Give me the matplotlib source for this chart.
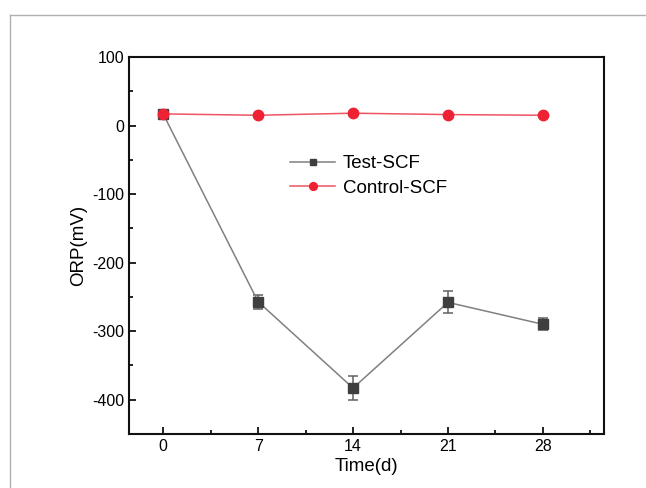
import matplotlib
matplotlib.use("Agg")
import matplotlib.pyplot as plt
from matplotlib.lines import Line2D
from matplotlib.ticker import MultipleLocator

plt.rcParams['font.family'] = ['Liberation Sans', 'DejaVu Sans']
plt.rcParams['axes.unicode_minus'] = False

days = [0, 7, 14, 21, 28]
test_scf = [17, -257, -383, -258, -290]
test_err = [0, 10, 17, 16, 9]
control_scf = [17, 15, 18, 16, 15]

fig = plt.figure(figsize=(6.46, 4.88), dpi=100)
ax = fig.add_axes([0.2, 0.1107, 0.735, 0.7725])

ax.errorbar(days, test_scf, yerr=test_err, color='none', ecolor='#606060',
            elinewidth=1.1, capsize=3.5, capthick=1.1, fmt='none', zorder=2)
ln_test, = ax.plot(days, test_scf, color='#808080', lw=1.1, marker='s', ms=6.5,
                   mfc='#3f3f3f', mec='#3f3f3f', label='Test-SCF', zorder=3)
ln_ctrl, = ax.plot(days, control_scf, color='#ee5560', lw=1.1, marker='o', ms=7.5,
                   mfc='#ee2233', mec='#ee2233', label='Control-SCF', zorder=4)

ax.set_xlim(-2.5, 32.5)
ax.set_ylim(-450, 100)
ax.set_xticks(days)
ax.set_yticks([100, 0, -100, -200, -300, -400])
ax.xaxis.set_minor_locator(MultipleLocator(3.5))
ax.yaxis.set_minor_locator(MultipleLocator(50))
ax.tick_params(which='both', direction='in', top=False, right=False,
               labelsize=11.5, width=1.3, color='#111111')
ax.tick_params(which='major', length=5)
ax.tick_params(which='minor', length=3)
for s in ax.spines.values():
    s.set_linewidth(1.5)
    s.set_color('#111111')

ax.set_xlabel('Time(d)', fontsize=13.5, labelpad=3)
ax.set_ylabel('ORP(mV)', fontsize=13.5, labelpad=4)

ax.legend(handles=[ln_test, ln_ctrl], loc='upper left',
          bbox_to_anchor=(0.339, 0.74), frameon=False,
          fontsize=13.5, handlelength=2.4, handletextpad=0.4, markerscale=0.75,
          borderpad=0, borderaxespad=0, labelspacing=0.4)

# image border
fig.add_artist(Line2D([9.5/646, 1], [1 - 15/488, 1 - 15/488],
                      transform=fig.transFigure, color='#b0b0b0', lw=1))
fig.add_artist(Line2D([9.5/646, 9.5/646], [0, 1 - 15/488],
                      transform=fig.transFigure, color='#b0b0b0', lw=1))

fig.savefig('out.png', dpi=100)
